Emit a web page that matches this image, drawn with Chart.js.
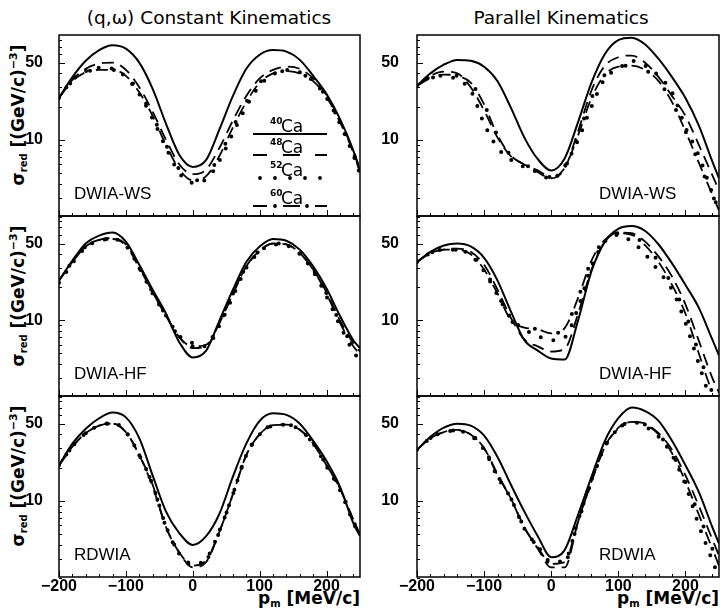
<!DOCTYPE html>
<html>
<head>
<meta charset="utf-8">
<script src="https://cdn.jsdelivr.net/npm/chart.js@4.4.1/dist/chart.umd.min.js"></script>
<style>
body { margin: 0; background: #fff; }
#wrap { position: relative; width: 722px; height: 610px; overflow: hidden; font-family: 'DejaVu Sans', sans-serif; color: #000; }
#wrap canvas { position: absolute; }
.title { position: absolute; top: 7px; font-size: 18.5px; white-space: nowrap; transform: translateX(-50%); }
.ytitle { position: absolute; width: 180px; height: 24px; line-height: 24px; text-align: center; font-size: 17px; font-weight: bold; transform: rotate(-90deg); white-space: nowrap; }
.xtitle { position: absolute; top: 588px; font-size: 17px; font-weight: bold; white-space: nowrap; transform: translateX(-100%); }
.ytitle sub, .xtitle sub { font-size: 10px; vertical-align: -3px; line-height: 0; }
.ytitle sup { font-size: 11px; vertical-align: 7px; line-height: 0; }
</style>
</head>
<body>
<div id="wrap">
    <div class="title" style="left: 209px;">(q,ω) Constant Kinematics</div>
    <div class="title" style="left: 561px;">Parallel Kinematics</div>

    <div class="ytitle" style="left: -72px; top: 103px;">σ<sub>red</sub> [(GeV/c)<sup>−3</sup>]</div>
    <div class="ytitle" style="left: -72px; top: 284px;">σ<sub>red</sub> [(GeV/c)<sup>−3</sup>]</div>
    <div class="ytitle" style="left: -72px; top: 464px;">σ<sub>red</sub> [(GeV/c)<sup>−3</sup>]</div>

    <div class="xtitle" style="left: 360px;">p<sub>m</sub> [MeV/c]</div>
    <div class="xtitle" style="left: 719px;">p<sub>m</sub> [MeV/c]</div>

    <canvas id="cWS"></canvas>
    <canvas id="pWS"></canvas>
    <canvas id="cHF"></canvas>
    <canvas id="pHF"></canvas>
    <canvas id="cRD"></canvas>
    <canvas id="pRD"></canvas>
</div>

<script>
// missing momentum p_m [MeV/c]
const pm = [-200, -180, -160, -140, -120, -100, -80, -60, -40, -20, 0, 20, 40, 60, 80, 100, 120, 140, 160, 180, 200, 220, 240, 250];

const xLabelTicks = [-200, -100, 0, 100, 200];
const yLabelTicks = [10, 50];
const yMinorTicks = [2, 3, 4, 5, 6, 7, 8, 9, 10, 20, 30, 40, 50, 60, 70, 80];
const isotopes = ['40', '48', '52', '60'];

// (q,w) constant kinematics, DWIA-WS
const cWS40 = [24, 37, 52, 65, 72, 67, 50, 29, 14, 7.3, 5.7, 6.6, 12.5, 25, 44, 59, 65, 63, 53, 38, 26, 15.5, 8, 5.2];
const cWS48 = [24, 35, 44, 49, 50, 43, 30, 18, 10, 6, 4.9, 5.4, 8.5, 15, 25, 36, 43, 46, 44, 36, 25.5, 15, 8, 5.5];
const cWS52 = [24, 35, 42, 45, 44, 37, 26, 15.5, 8.5, 5, 4.1, 4.4, 6.5, 11.5, 20, 31, 39, 43, 41, 34, 24, 14, 7.3, 4.9];
const cWS60 = [24, 34, 41, 43, 43, 38, 27, 16.5, 9, 5.4, 4.3, 4.7, 7.2, 13, 22, 33, 40, 42, 40, 34, 24.5, 14.5, 7.7, 5.1];

// parallel kinematics, DWIA-WS
const pWS40 = [31, 40, 48, 53, 52, 46, 34, 19.5, 10.5, 6.7, 5.3, 6.8, 14.5, 33, 60, 80, 84, 73, 54, 37, 24, 13.5, 6.4, 4.5];
const pWS48 = [31, 38, 41.5, 40, 30, 18.5, 10.5, 7.1, 6, 5.1, 4.5, 5.5, 12, 28, 47, 56, 58, 50, 37, 25, 16.5, 9, 4.8, 3.5];
const pWS52 = [31, 37, 38, 35, 28, 14, 8.5, 6.6, 5.7, 5.1, 4.4, 5.8, 10, 20, 36, 44, 52, 47, 38, 27, 13, 7.2, 3.3, 2.3];
const pWS60 = [31, 36, 39, 38, 33, 21, 11, 7.2, 6, 5.3, 4.6, 5.6, 11, 24, 39, 46, 47, 43, 34, 22, 12, 6.2, 3.2, 2.3];

// (q,w) constant kinematics, DWIA-HF
const cHF40 = [23, 35, 50, 59, 63, 52, 32, 19, 11.5, 6.3, 4.6, 5.3, 10, 19, 34, 47, 55, 53, 44, 31, 19.5, 11, 6.6, 5.6];
const cHF48 = [23, 34, 47, 54, 56, 49, 31, 18, 11, 7, 5.6, 5.8, 9.5, 17.5, 31, 43, 50, 49, 41, 29, 18, 10, 6.2, 5.2];
const cHF52 = [22, 33, 46, 53, 55, 48, 30, 17.5, 11, 7.2, 6.2, 5.8, 9, 16.5, 30, 42, 49, 48, 40, 28, 16.5, 9, 5.2, 4.3];
const cHF60 = [23, 34, 47, 54, 55, 48, 30, 18, 11, 7, 5.8, 6, 9.5, 17.5, 31, 43, 50, 49, 41, 29, 17.5, 9.5, 5.8, 4.9];

// parallel kinematics, DWIA-HF
const pHF40 = [34, 42, 48, 50, 47, 37, 23, 12, 6.6, 5.3, 4.5, 4.4, 10, 28, 52, 68, 72, 65, 49, 33, 21, 13, 6.7, 4.8];
const pHF48 = [34, 41, 44, 45, 42, 32, 19, 10.5, 6.7, 5.8, 5.2, 5.5, 11.5, 29, 52, 63, 62, 52, 38, 25, 14, 6.5, 3, 2.2];
const pHF52 = [34, 41, 44, 44, 39, 28, 17, 10.5, 8.3, 7.2, 6.6, 7, 13, 31, 52, 60, 52, 40, 28, 19, 9.5, 4, 1.7, 1.2];
const pHF60 = [34, 41, 44, 44, 40, 29, 17.5, 10, 8.6, 8.3, 7.6, 8.5, 16, 35, 54, 62, 60, 48, 34, 21, 11.5, 5, 2.2, 1.6];

// (q,w) constant kinematics, RDWIA
const cRD40 = [21, 33, 45, 56, 63, 57, 37, 17, 8, 5.1, 4, 4.8, 7.7, 16.6, 33, 53, 62, 60, 50, 35, 23, 13.5, 6.3, 4.8];
const cRD48 = [21, 31, 41, 48, 50, 42, 26, 13.5, 5.8, 3.4, 2.5, 2.8, 5.3, 11.5, 26, 40, 48.5, 49, 44, 33, 21, 13, 6.8, 5];
const cRD52 = [21, 31, 41, 48, 51, 42, 26, 14, 5.9, 3.3, 2.7, 3, 5.4, 11.5, 26, 40, 48, 49, 44, 33, 20.5, 12.5, 6.4, 4.7];
const cRD60 = [21, 31, 41, 48, 50, 42, 26, 14, 5.8, 3.4, 2.6, 2.9, 5.3, 11.5, 26, 40, 48.5, 49, 44, 33, 21, 13, 6.6, 4.9];

// parallel kinematics, RDWIA
const pRD40 = [29, 38, 46, 50, 48, 39, 25, 14, 8, 4.8, 3.1, 3.6, 7.5, 16.5, 35, 56, 70, 65, 53, 35, 21, 12, 5.8, 4.1];
const pRD48 = [29, 37, 42, 44, 40, 30, 17.5, 10.5, 5.8, 3.7, 2.5, 2.5, 6.5, 15, 31, 46, 52, 50, 41, 29, 17, 9, 4.5, 3.2];
const pRD52 = [29, 37, 42, 43, 39, 29, 16.5, 10.5, 5.6, 3.9, 2.8, 2.9, 6.7, 15.5, 31, 45, 52, 47, 38, 26, 14, 6, 2.9, 2];
const pRD60 = [29, 37, 42, 43.5, 40, 30, 17, 10.5, 5.7, 3.8, 2.7, 2.8, 6.5, 15, 31, 45, 52, 49, 40, 27, 15, 7.5, 3.7, 2.6];

// panel geometry (page pixels)
const colLeft = [0, 362];
const colWidth = [362, 360];
const axisWidth = [59, 55];
const padRight = [2, 3];
const rowTop = [35, 216, 396];
const rowBottom = [216, 396, 577];

const tickFont = { family: 'Liberation Sans', size: 16, weight: 'bold' };

// frame, inward ticks and panel name
const framePlugin = {
    id: 'frame',
    afterDraw(chart, args, opts) {
        const ctx = chart.ctx;
        const a = chart.chartArea;
        const xs = chart.scales.x;
        const ys = chart.scales.y;
        ctx.save();
        ctx.strokeStyle = '#000';
        ctx.lineWidth = 1.5;
        ctx.setLineDash([]);
        ctx.strokeRect(a.left, a.top, a.right - a.left, a.bottom - a.top);

        ctx.lineWidth = 1;
        ctx.beginPath();
        for (let v = -200; v <= 250; v += 20) {
            const px = Math.round(xs.getPixelForValue(v)) + 0.5;
            const len = v % 100 === 0 ? 6 : 3;
            ctx.moveTo(px, a.bottom);
            ctx.lineTo(px, a.bottom - len);
        }
        yMinorTicks.forEach(v => {
            const py = Math.round(ys.getPixelForValue(v)) + 0.5;
            const len = yLabelTicks.includes(v) ? 6 : 3;
            ctx.moveTo(a.left, py);
            ctx.lineTo(a.left + len, py);
        });
        ctx.stroke();

        ctx.fillStyle = '#000';
        ctx.font = '17px "Liberation Sans"';
        ctx.textBaseline = 'alphabetic';
        ctx.fillText(opts.label, a.left + opts.labelX, a.bottom - 17);
        ctx.restore();
    }
};

// isotope key in the first panel
const keyPlugin = {
    id: 'key',
    afterDatasetsDraw(chart) {
        const ctx = chart.ctx;
        const a = chart.chartArea;
        const x0 = a.left + 194, x1 = a.left + 268;
        const rows = [99, 120, 143, 171];
        ctx.save();
        ctx.strokeStyle = '#000';
        ctx.fillStyle = '#000';
        rows.forEach((dy, i) => {
            const y = a.top + dy;
            ctx.font = 'bold 9px "DejaVu Sans"';
            ctx.fillText(isotopes[i], x0 + 17, y - 10);
            ctx.font = '17px "DejaVu Sans"';
            ctx.fillText('Ca', x0 + 28, y - 2);
            ctx.lineCap = 'butt';
            if (i === 0) {
                ctx.lineWidth = 2;
                ctx.beginPath(); ctx.moveTo(x0, y); ctx.lineTo(x1, y); ctx.stroke();
            } else if (i === 1) {
                ctx.lineWidth = 1.8;
                ctx.beginPath();
                [[0, 14], [30, 47], [62, 74]].forEach(s => { ctx.moveTo(x0 + s[0], y); ctx.lineTo(x0 + s[1], y); });
                ctx.stroke();
            } else if (i === 2) {
                for (let k = 0; k < 5; k++) {
                    ctx.beginPath(); ctx.arc(x0 + 7 + 15 * k, y, 1.9, 0, 2 * Math.PI); ctx.fill();
                }
            } else {
                ctx.lineWidth = 1.8;
                ctx.beginPath();
                [[0, 14], [30, 47], [62, 74]].forEach(s => { ctx.moveTo(x0 + s[0], y); ctx.lineTo(x0 + s[1], y); });
                ctx.stroke();
                [22, 54].forEach(d => { ctx.beginPath(); ctx.arc(x0 + d, y, 1.9, 0, 2 * Math.PI); ctx.fill(); });
            }
        });
        ctx.restore();
    }
};

function points(vals) {
    return pm.map((x, i) => ({ x: x, y: vals[i] }));
}

function makePanel(id, col, row, series, label, labelX, withKey) {
    const canvas = document.getElementById(id);
    const bottomRoom = row === 2 ? 30 : 4;
    canvas.width = colWidth[col];
    canvas.height = (rowBottom[row] - rowTop[row]) + 4 + bottomRoom;
    canvas.style.left = colLeft[col] + 'px';
    canvas.style.top = (rowTop[row] - 4) + 'px';

    new Chart(canvas.getContext('2d'), {
        type: 'line',
        data: {
            datasets: [
                { label: '40Ca', data: points(series[0]), borderWidth: 2 },
                { label: '48Ca', data: points(series[1]), borderWidth: 1.8, borderDash: [12, 7] },
                { label: '52Ca', data: points(series[2]), borderWidth: 4, borderDash: [0, 13], borderCapStyle: 'round' },
                { label: '60Ca', data: points(series[3]), borderWidth: 1.8, borderDash: [12, 12] },
                { label: '60Ca dots', data: points(series[3]), borderWidth: 4, borderDash: [0, 24], borderDashOffset: 6, borderCapStyle: 'round' }
            ]
        },
        options: {
            responsive: false,
            animation: false,
            devicePixelRatio: 1,
            events: [],
            layout: { padding: { top: 4, bottom: row === 2 ? 0 : 4, left: 0, right: padRight[col] } },
            elements: {
                point: { radius: 0 },
                line: { borderColor: '#000', fill: false, cubicInterpolationMode: 'monotone', borderJoinStyle: 'round' }
            },
            plugins: {
                legend: { display: false },
                tooltip: { enabled: false },
                frame: { label: label, labelX: labelX }
            },
            scales: {
                x: {
                    type: 'linear',
                    min: -200,
                    max: 250,
                    display: row === 2,
                    grid: { display: false },
                    border: { display: false },
                    ticks: {
                        color: '#000',
                        font: tickFont,
                        padding: -8,
                        maxRotation: 0,
                        autoSkip: false,
                        callback: v => v < 0 ? '−' + (-v) : String(v)
                    },
                    afterBuildTicks: axis => { axis.ticks = xLabelTicks.map(v => ({ value: v })); },
                    afterFit: axis => {
                        axis.height = row === 2 ? 30 : 0;
                        axis.paddingLeft = 0;
                        axis.paddingRight = 0;
                    }
                },
                y: {
                    type: 'logarithmic',
                    min: 2.05,
                    max: 89,
                    grid: { display: false },
                    border: { display: false },
                    ticks: {
                        color: '#000',
                        font: tickFont,
                        padding: col === 0 ? 8 : 10,
                        autoSkip: false,
                        callback: v => String(v)
                    },
                    afterBuildTicks: axis => { axis.ticks = yLabelTicks.map(v => ({ value: v })); },
                    afterFit: axis => {
                        axis.width = axisWidth[col];
                        axis.paddingTop = 0;
                        axis.paddingBottom = 0;
                    }
                }
            }
        },
        plugins: withKey ? [framePlugin, keyPlugin] : [framePlugin]
    });
}

makePanel('cWS', 0, 0, [cWS40, cWS48, cWS52, cWS60], 'DWIA-WS', 15, true);
makePanel('pWS', 1, 0, [pWS40, pWS48, pWS52, pWS60], 'DWIA-WS', 182, false);
makePanel('cHF', 0, 1, [cHF40, cHF48, cHF52, cHF60], 'DWIA-HF', 15, false);
makePanel('pHF', 1, 1, [pHF40, pHF48, pHF52, pHF60], 'DWIA-HF', 182, false);
makePanel('cRD', 0, 2, [cRD40, cRD48, cRD52, cRD60], 'RDWIA', 15, false);
makePanel('pRD', 1, 2, [pRD40, pRD48, pRD52, pRD60], 'RDWIA', 182, false);
</script>
</body>
</html>
